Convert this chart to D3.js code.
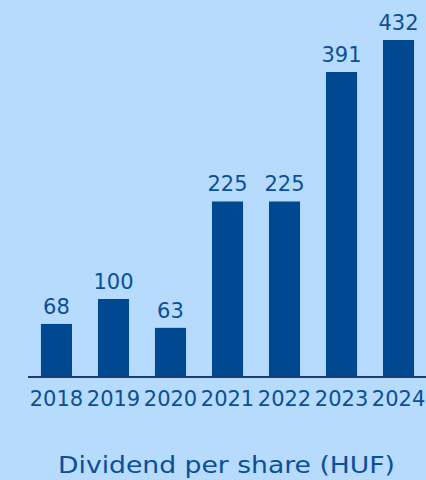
<!DOCTYPE html>
<html>
<head>
<meta charset="utf-8">
<script src="https://cdn.jsdelivr.net/npm/d3@7"></script>
<style>
  html, body { margin: 0; padding: 0; background: #b6dbfd; }
  svg { display: block; }
</style>
</head>
<body>
<svg width="426" height="480"></svg>
<script>
const years = ["2018", "2019", "2020", "2021", "2022", "2023", "2024"];
const dividends = [68, 100, 63, 225, 225, 391, 432];
const title = "Dividend per share (HUF)";

const svg = d3.select("svg");
const width = 426;
const height = 480;
const baseY = 377;
const font = "DejaVu Sans, Verdana, sans-serif";

svg.append("rect")
    .attr("width", width)
    .attr("height", height)
    .attr("fill", "#b6dbfd");

// band scale: bar width ~31, step 57
const x = d3.scaleBand()
    .domain(years)
    .range([28, 427])
    .paddingInner(0.455)
    .paddingOuter(0.227);

const y = d3.scaleLinear()
    .domain([0, 432])
    .range([baseY, 40]);

const data = years.map((yr, i) => ({ year: yr, value: dividends[i] }));

svg.append("g")
    .selectAll("rect")
    .data(data)
    .enter().append("rect")
    .attr("x", d => x(d.year))
    .attr("y", d => y(d.value))
    .attr("width", x.bandwidth())
    .attr("height", d => baseY - y(d.value))
    .attr("fill", "#004990");

// value labels
svg.append("g")
    .selectAll("text")
    .data(data)
    .enter().append("text")
    .attr("x", d => x(d.year) + x.bandwidth() / 2)
    .attr("y", d => y(d.value) - 10)
    .attr("text-anchor", "middle")
    .attr("font-family", font)
    .attr("font-size", 21)
    .attr("fill", "#0b4f96")
    .text(d => d.value);

// baseline axis
const axis = svg.append("g")
    .attr("transform", `translate(0,${baseY})`)
    .call(d3.axisBottom(x).tickSize(0).tickPadding(14));

axis.select(".domain")
    .attr("d", "M28,0H426")
    .attr("stroke", "#1b3c6e")
    .attr("stroke-width", 2);

axis.selectAll("text")
    .attr("font-family", font)
    .attr("font-size", 21)
    .attr("fill", "#0b4f96");

// title is wider in the original (Verdana), stretch to match
svg.append("text")
    .attr("x", 58)
    .attr("y", 473)
    .attr("font-family", font)
    .attr("font-size", 23)
    .attr("fill", "#0b4f96")
    .attr("textLength", 337)
    .attr("lengthAdjust", "spacingAndGlyphs")
    .text(title);
</script>
</body>
</html>
